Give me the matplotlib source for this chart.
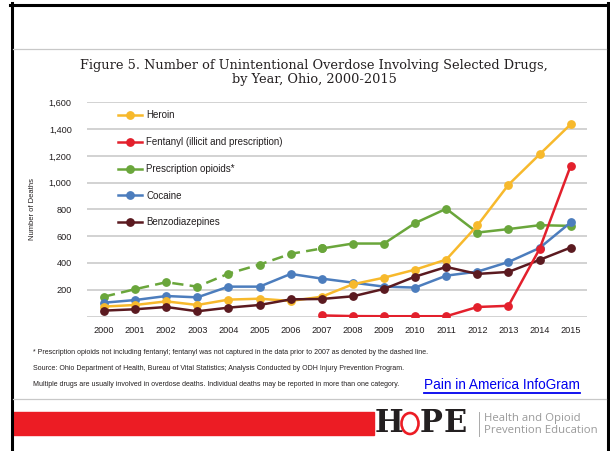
import matplotlib
matplotlib.use("Agg")
import matplotlib.pyplot as plt
from matplotlib.lines import Line2D
from matplotlib.patches import Rectangle, Ellipse
from matplotlib import font_manager

W, H = 610, 451
DPI = 100

years = list(range(2000, 2016))
heroin = [74, 86, 113, 86, 126, 133, 116, 148, 241, 290, 350, 425, 680, 984, 1211, 1436]
fentanyl_years = list(range(2007, 2016))
fentanyl = [8, 3, 2, 2, 2, 71, 80, 505, 1126]
rx_opioids = [148, 204, 256, 223, 320, 388, 468, 508, 545, 545, 698, 805, 627, 653, 682, 677]
cocaine = [103, 123, 153, 143, 223, 223, 318, 283, 253, 223, 216, 305, 335, 407, 512, 703]
benzo = [44, 54, 71, 39, 66, 86, 128, 131, 151, 206, 298, 370, 318, 333, 423, 515]

series_names = ["Heroin", "Fentanyl (illicit and prescription)", "Prescription opioids*",
                "Cocaine", "Benzodiazepines"]
colors = {"Heroin": "#F7B92C", "Fentanyl": "#E3202C", "Rx": "#6AA63B",
          "Cocaine": "#4C7DBD", "Benzo": "#5B1A20"}
yticks = [200, 400, 600, 800, 1000, 1200, 1400, 1600]

title = ("Figure 5. Number of Unintentional Overdose Involving Selected Drugs,\n"
         "by Year, Ohio, 2000-2015")
notes = ["* Prescription opioids not including fentanyl; fentanyl was not captured in the data prior to 2007 as denoted by the dashed line.",
         "Source: Ohio Department of Health, Bureau of Vital Statistics; Analysis Conducted by ODH Injury Prevention Program.",
         "Multiple drugs are usually involved in overdose deaths. Individual deaths may be reported in more than one category."]

avail = {f.name for f in font_manager.fontManager.ttflist}
narrow = "Liberation Sans Narrow" if "Liberation Sans Narrow" in avail else "Liberation Sans"

fig = plt.figure(figsize=(W / DPI, H / DPI), dpi=DPI)
fig.patch.set_facecolor("white")

def fx(x):
    return x / W

def fy(y):
    return 1 - y / H

# frame / decorations
fig.add_artist(Line2D([fx(11.5), fx(11.5)], [fy(3), fy(451)], color="black", lw=2.2))
fig.add_artist(Line2D([fx(607.5), fx(607.5)], [fy(3), fy(451)], color="black", lw=2.2))
fig.add_artist(Line2D([fx(10), fx(609)], [fy(4.5), fy(4.5)], color="black", lw=2.2))
fig.add_artist(Line2D([fx(13), fx(606)], [fy(48.5), fy(48.5)], color="#c8c8c8", lw=0.9))
fig.add_artist(Line2D([fx(13), fx(606)], [fy(398.5), fy(398.5)], color="#c8c8c8", lw=0.9))
fig.add_artist(Rectangle((fx(13), fy(435)), fx(374) - fx(13), fy(412) - fy(435),
                         color="#EC1C24", transform=fig.transFigure))

# title
fig.text(fx(314), fy(73), title, ha="center", va="center", fontsize=9.3,
         family="DejaVu Serif", color="#231f20", linespacing=1.1)

# axes
ax_left, ax_right = 87, 587
y0, y1600 = 316.5, 102.3
ax = fig.add_axes([fx(ax_left), fy(y0), (ax_right - ax_left) / W, (y0 - y1600) / H])
px_per_year = (570.7 - 104) / 15
ax.set_xlim(2000 - (104 - ax_left) / px_per_year, 2015 + (ax_right - 570.7) / px_per_year)
ax.set_ylim(0, 1600)
for s in ax.spines.values():
    s.set_visible(False)
ax.set_yticks([0] + yticks)
ax.set_yticklabels([""] + [f"{v:,}" for v in yticks])
ax.set_xticks(years)
ax.set_xticklabels([str(y) for y in years])
ax.tick_params(length=0, labelsize=6.6, colors="#231f20")
ax.tick_params(axis="y", pad=11)
ax.tick_params(axis="x", pad=7)
for lab in ax.get_xticklabels() + ax.get_yticklabels():
    lab.set_family("Liberation Sans")
ax.grid(axis="y", color="#cfcfcf", lw=1.3)
ax.set_axisbelow(True)
ax.set_ylabel("Number of Deaths", fontsize=5.5, family="Liberation Sans", labelpad=9,
              color="#231f20")

lw, ms = 1.8, 5.3
# prescription opioids: dashed before 2007, solid after
idx = years.index(2007)
ax.plot(years[:idx + 1], rx_opioids[:idx + 1], color=colors["Rx"], lw=lw, ls=(0, (4.5, 2.5)),
        marker="o", ms=ms, zorder=3)
ax.plot(years[idx:], rx_opioids[idx:], color=colors["Rx"], lw=lw, marker="o", ms=ms, zorder=3)
ax.plot(years, cocaine, color=colors["Cocaine"], lw=lw, marker="o", ms=ms, zorder=3)
ax.plot(years, heroin, color=colors["Heroin"], lw=lw, marker="o", ms=ms, zorder=3)
ax.plot(years, benzo, color=colors["Benzo"], lw=lw, marker="o", ms=ms, zorder=4)
ax.plot(fentanyl_years, fentanyl, color=colors["Fentanyl"], lw=lw, marker="o", ms=ms, zorder=5)

handles = [Line2D([], [], color=c, lw=lw, marker="o", ms=ms)
           for c in [colors["Heroin"], colors["Fentanyl"], colors["Rx"], colors["Cocaine"], colors["Benzo"]]]
leg = ax.legend(handles, series_names, loc="upper left",
                bbox_to_anchor=((118 - ax_left) / (ax_right - ax_left), 1 - (110.5 - y1600) / (y0 - y1600)),
                frameon=False, prop={"family": narrow, "size": 7.0}, handlelength=2.5,
                handletextpad=0.4, labelspacing=1.72, borderaxespad=0, borderpad=0)
for t in leg.get_texts():
    t.set_color("#231f20")

# footnotes
for yy, n in zip([352, 369, 385], notes):
    fig.text(fx(33), fy(yy), n, ha="left", va="center", fontsize=5.0, family=narrow,
             color="#231f20")

# link
fig.text(fx(424), fy(385), "Pain in America InfoGram", ha="left", va="center",
         fontsize=9.8, family="Liberation Sans", color="#0000EE")
fig.add_artist(Line2D([fx(424), fx(580)], [fy(393), fy(393)], color="#0000EE", lw=1.3))

# logo
for letter, xpos in [("H", 375), ("P", 420), ("E", 444)]:
    fig.text(fx(xpos), fy(424), letter, ha="left", va="center", fontsize=22,
             family="DejaVu Serif", weight="bold", color="#231f20")
fig.add_artist(Ellipse((fx(410), fy(423.5)), 17 / W, 21 / H, fill=False, ec="#EC1C24", lw=1.9,
                       transform=fig.transFigure))
fig.add_artist(Line2D([fx(479), fx(479)], [fy(412), fy(436)], color="#aaaaaa", lw=0.7))
fig.text(fx(484), fy(418.5), "Health and Opioid", ha="left", va="center", fontsize=8.2,
         family="Open Sans", color="#9a9a9a")
fig.text(fx(484), fy(430.5), "Prevention Education", ha="left", va="center", fontsize=8.2,
         family="Open Sans", color="#9a9a9a")

fig.savefig("out.png", dpi=DPI, facecolor="white")
